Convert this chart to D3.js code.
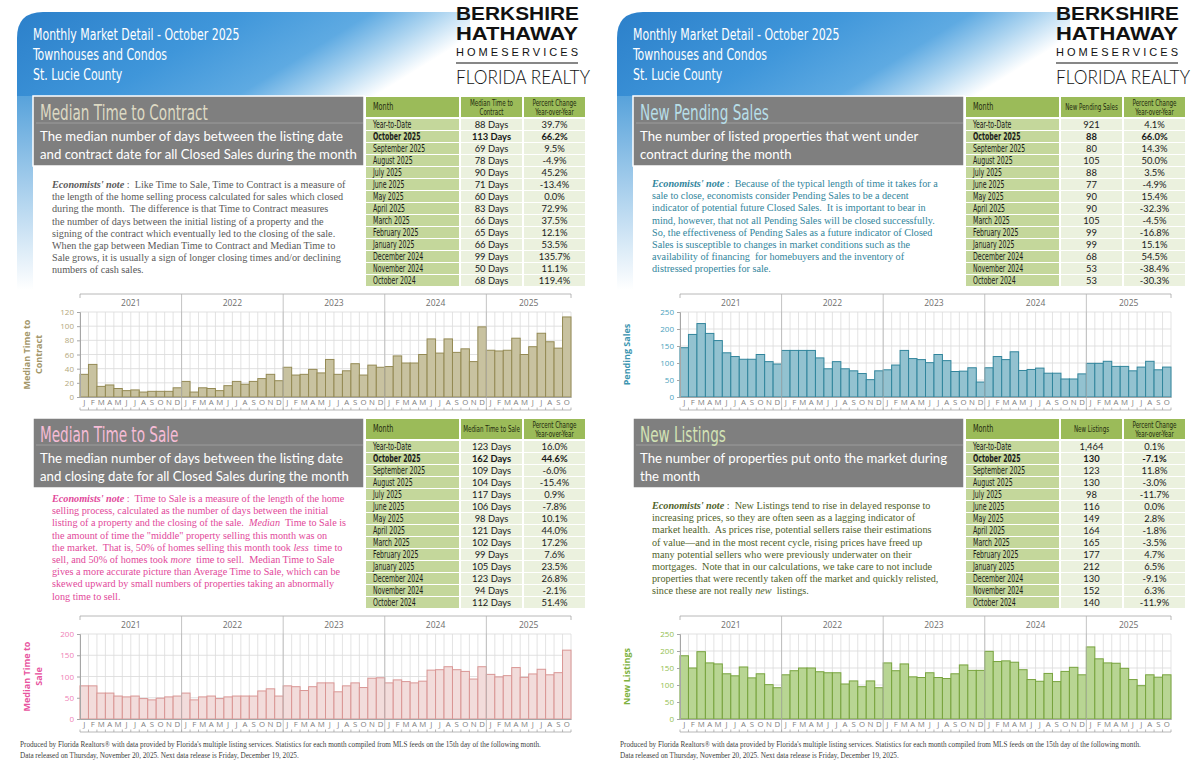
<!doctype html>
<html>
<head>
<meta charset="utf-8">
<title>Monthly Market Detail - October 2025</title>
<style>
body { margin: 0; background: #fff; }
svg text { font-family: "Liberation Sans Narrow", "DejaVu Sans Condensed", sans-serif; }
svg text.serif { font-family: "Liberation Serif", serif; white-space: pre; }
svg text.cal { font-family: Lato, "Open Sans", sans-serif; }
svg text.logo { font-family: "Liberation Sans", Arial, sans-serif; }
</style>
</head>
<body>
<script src="https://d3js.org/d3.v7.min.js"></script>
<script>

// ---- data ----
var months = ["J","F","M","A","M","J","J","A","S","O","N","D"];
var years = ["2021","2022","2023","2024","2025"];

// Jan 2021 .. Oct 2025
var ttcValues = [32,46,15,17,12,9,10,7,8,8,8,13,
                 22,7,13,12,9,16,22,18,22,26,32,23,
                 42,31,32,39,34,53,32,37,47,31,45,42,
                 43,58,48,48,60,82,62,82,63,68,50,99,
                 66,65,66,83,60,71,90,78,69,113];
var ttsValues = [78,78,61,61,54,52,54,48,45,49,52,54,
                 61,45,52,54,48,52,54,54,54,66,71,54,
                 78,76,67,76,85,85,64,78,85,74,96,97,
                 85,92,88,85,89,115,116,123,116,112,94,123,
                 105,99,102,121,98,106,117,104,109,162];
var pendingValues = [145,184,216,187,166,130,119,111,111,125,104,97,
                     137,137,137,137,115,83,104,83,77,69,51,77,
                     80,94,137,113,110,101,125,107,75,76,86,44,
                     86,119,110,133,78,81,85,70,70,53,53,68,
                     99,99,105,90,90,77,88,105,80,88];
var listingsValues = [186,150,198,165,162,133,127,153,121,133,101,92,
                      130,142,150,150,139,136,136,103,112,95,112,92,
                      165,142,162,124,122,136,122,119,133,159,143,143,
                      199,169,171,167,145,116,111,134,110,140,152,130,
                      212,177,165,164,149,116,98,130,123,130];

var tableMonths = ["Year-to-Date","October 2025","September 2025","August 2025","July 2025","June 2025",
                   "May 2025","April 2025","March 2025","February 2025","January 2025",
                   "December 2024","November 2024","October 2024"];
var ttcTable = ["88 Days","113 Days","69 Days","78 Days","90 Days","71 Days","60 Days","83 Days",
                "66 Days","65 Days","66 Days","99 Days","50 Days","68 Days"];
var ttcPct = ["39.7%","66.2%","9.5%","-4.9%","45.2%","-13.4%","0.0%","72.9%","37.5%","12.1%",
              "53.5%","135.7%","11.1%","119.4%"];
var ttsTable = ["123 Days","162 Days","109 Days","104 Days","117 Days","106 Days","98 Days","121 Days",
                "102 Days","99 Days","105 Days","123 Days","94 Days","112 Days"];
var ttsPct = ["16.0%","44.6%","-6.0%","-15.4%","0.9%","-7.8%","10.1%","44.0%","17.2%","7.6%",
              "23.5%","26.8%","-2.1%","51.4%"];
var pendingTable = ["921","88","80","105","88","77","90","90","105","99","99","68","53","53"];
var pendingPct = ["4.1%","66.0%","14.3%","50.0%","3.5%","-4.9%","15.4%","-32.3%","-4.5%","-16.8%",
                  "15.1%","54.5%","-38.4%","-30.3%"];
var listingsTable = ["1,464","130","123","130","98","116","149","164","165","177","212","130","152","140"];
var listingsPct = ["0.1%","-7.1%","11.8%","-3.0%","-11.7%","0.0%","2.8%","-1.8%","-3.5%","4.7%",
                   "6.5%","-9.1%","6.3%","-11.9%"];

var headerLines = ["Monthly Market Detail - October 2025", "Townhouses and Condos", "St. Lucie County"];

var ttcNote = [
 "**Economists' note** :  Like Time to Sale, Time to Contract is a measure of",
 "the length of the home selling process calculated for sales which closed",
 "during the month.  The difference is that Time to Contract measures",
 "the number of days between the initial listing of a property and the",
 "signing of the contract which eventually led to the closing of the sale.",
 "When the gap between Median Time to Contract and Median Time to",
 "Sale grows, it is usually a sign of longer closing times and/or declining",
 "numbers of cash sales."];
var ttsNote = [
 "**Economists' note** :  Time to Sale is a measure of the length of the home",
 "selling process, calculated as the number of days between the initial",
 "listing of a property and the closing of the sale.  _Median_  Time to Sale is",
 "the amount of time the \"middle\" property selling this month was on",
 "the market.  That is, 50% of homes selling this month took _less_  time to",
 "sell, and 50% of homes took _more_  time to sell.  Median Time to Sale",
 "gives a more accurate picture than Average Time to Sale, which can be",
 "skewed upward by small numbers of properties taking an abnormally",
 "long time to sell."];
var pendingNote = [
 "**Economists' note** :  Because of the typical length of time it takes for a",
 "sale to close, economists consider Pending Sales to be a decent",
 "indicator of potential future Closed Sales.  It is important to bear in",
 "mind, however, that not all Pending Sales will be closed successfully.",
 "So, the effectiveness of Pending Sales as a future indicator of Closed",
 "Sales is susceptible to changes in market conditions such as the",
 "availability of financing  for homebuyers and the inventory of",
 "distressed properties for sale."];
var listingsNote = [
 "**Economists' note** :  New Listings tend to rise in delayed response to",
 "increasing prices, so they are often seen as a lagging indicator of",
 "market health.  As prices rise, potential sellers raise their estimations",
 "of value\u2014and in the most recent cycle, rising prices have freed up",
 "many potential sellers who were previously underwater on their",
 "mortgages.  Note that in our calculations, we take care to not include",
 "properties that were recently taken off the market and quickly relisted,",
 "since these are not really _new_  listings."];

var footerLines = [
 "Produced by Florida Realtors\u00ae with data provided by Florida's multiple listing services. Statistics for each month compiled from MLS feeds on the 15th day of the following month.",
 "Data released on Thursday, November 20, 2025. Next data release is Friday, December 19, 2025."];

// ---- sections (styling only) ----
var panels = [
  { ox: 0, sections: [
    { top: 96, title: "Median Time to Contract", sub: ["The median number of days between the listing date", "and contract date for all Closed Sales during the month"],
      valueHead: ["Median Time to", "Contract"], cells: ttcTable, pcts: ttcPct, note: ttcNote, noteY: 188, values: ttcValues,
      max: 120, step: 20, axisLabel: ["Median Time to", "Contract"],
      titleColor: "#ddd9c3", noteColor: "#595959", fill: "#c8c2a0", stroke: "#948a54", labelColor: "#a39669", tickColor: "#b3a87c" },
    { top: 418, title: "Median Time to Sale", sub: ["The median number of days between the listing date", "and closing date for all Closed Sales during the month"],
      valueHead: ["Median Time to Sale"], cells: ttsTable, pcts: ttsPct, note: ttsNote, noteY: 502, values: ttsValues,
      max: 200, step: 50, axisLabel: ["Median Time to", "Sale"],
      titleColor: "#f6bcd6", noteColor: "#e2489a", fill: "#f2dcdb", stroke: "#d99694", labelColor: "#e8559f", tickColor: "#ef7fb6" }
  ]},
  { ox: 600, sections: [
    { top: 96, title: "New Pending Sales", sub: ["The number of listed properties that went under", "contract during the month"],
      valueHead: ["New Pending Sales"], cells: pendingTable, pcts: pendingPct, note: pendingNote, noteY: 187, values: pendingValues,
      max: 250, step: 50, axisLabel: ["Pending Sales"],
      titleColor: "#b7dee8", noteColor: "#31859c", fill: "#93c2d0", stroke: "#31859c", labelColor: "#3c95b0", tickColor: "#4aa3bd" },
    { top: 418, title: "New Listings", sub: ["The number of properties put onto the market during", "the month"],
      valueHead: ["New Listings"], cells: listingsTable, pcts: listingsPct, note: listingsNote, noteY: 509, values: listingsValues,
      max: 250, step: 50, axisLabel: ["New Listings"],
      titleColor: "#d3e3b5", noteColor: "#4f6228", fill: "#b8d593", stroke: "#77a33d", labelColor: "#80b23f", tickColor: "#92c050" }
  ]}
];

var svg = d3.select("body").append("svg")
  .attr("width", 1200)
  .attr("height", 776);

var defs = svg.append("defs");
var hg = defs.append("linearGradient").attr("id", "band").attr("x1", 0).attr("x2", 1).attr("y1", 0).attr("y2", 0.3);
hg.append("stop").attr("offset", "0%").attr("stop-color", "#2c80ca");
hg.append("stop").attr("offset", "45%").attr("stop-color", "#3f96da");
hg.append("stop").attr("offset", "72%").attr("stop-color", "#5eaae2");
hg.append("stop").attr("offset", "86%").attr("stop-color", "#acd4f0");
hg.append("stop").attr("offset", "100%").attr("stop-color", "#ffffff");
var vg = defs.append("linearGradient").attr("id", "strip").attr("x1", 0).attr("x2", 0).attr("y1", 0).attr("y2", 1);
vg.append("stop").attr("offset", "0%").attr("stop-color", "#4a9bd8");
vg.append("stop").attr("offset", "100%").attr("stop-color", "#ffffff");

// squeeze a text horizontally, stands in for the condensed face of the original
function narrow(sel, f) {
  sel.each(function() {
    var w = this.getComputedTextLength();
    d3.select(this).attr("textLength", w * f).attr("lengthAdjust", "spacingAndGlyphs");
  });
  return sel;
}

// logo words: stretch/squeeze to a set width with a transform so the box stays true
function logoWord(g, txt, x, y, width, size, weight, cls) {
  var wrap = g.append("g");
  var t = wrap.append("text").attr("class", cls).attr("x", 0).attr("y", 0)
    .attr("font-size", size).attr("font-weight", weight).attr("fill", "#111").text(txt);
  var w = t.node().getComputedTextLength();
  wrap.attr("transform", "translate(" + x + "," + y + ") scale(" + (width / w) + ",1)");
}

function noteText(g, x, y0, lines, color) {
  lines.forEach(function(ln, i) {
    var t = g.append("text").attr("class", "serif")
      .attr("x", x).attr("y", y0 + i * 12.2)
      .attr("font-size", 10.2).attr("fill", color);
    ln.split(/(\*\*[^*]+\*\*|_[^_]+_)/).forEach(function(part) {
      if (!part) return;
      var sp = t.append("tspan");
      if (part.indexOf("**") == 0) sp.text(part.slice(2, -2)).attr("font-weight", "bold").attr("font-style", "italic");
      else if (part[0] == "_" && part[part.length - 1] == "_") sp.text(part.slice(1, -1)).attr("font-style", "italic");
      else sp.text(part);
    });
  });
}

function drawTable(g, s) {
  var y0 = s.top + 1;
  var cols = [{x: 366, w: 93}, {x: 461, w: 61}, {x: 524, w: 61}];
  var heads = [["Month"], s.valueHead, ["Percent Change", "Year-over-Year"]];
  cols.forEach(function(c, ci) {
    g.append("rect").attr("x", c.x).attr("y", y0).attr("width", c.w).attr("height", 20).attr("fill", "#9bbb59");
    var hl = heads[ci];
    hl.forEach(function(h, hi) {
      narrow(g.append("text")
        .attr("x", ci == 0 ? c.x + 7 : c.x + c.w / 2)
        .attr("y", y0 + 10 + (hi - (hl.length - 1) / 2) * 9 + 3)
        .attr("text-anchor", ci == 0 ? "start" : "middle")
        .attr("font-size", ci == 0 ? 10 : 8.6).attr("fill", "#1f2a10")
        .text(h), 0.72);
    });
  });
  var rowY = d3.scaleBand().domain(d3.range(tableMonths.length)).range([y0 + 22, y0 + 22 + tableMonths.length * 12]);
  tableMonths.forEach(function(m, i) {
    var y = rowY(i);
    var bold = i == 1 ? "bold" : "normal";
    g.append("rect").attr("x", cols[0].x).attr("y", y).attr("width", cols[0].w).attr("height", 11).attr("fill", "#c4d79b");
    g.append("rect").attr("x", cols[1].x).attr("y", y).attr("width", cols[1].w).attr("height", 11).attr("fill", "#ebf1de");
    g.append("rect").attr("x", cols[2].x).attr("y", y).attr("width", cols[2].w).attr("height", 11).attr("fill", "#ebf1de");
    narrow(g.append("text").attr("x", cols[0].x + 7).attr("y", y + 9.2).attr("font-size", 10.2)
      .attr("font-weight", bold).attr("fill", "#1a1a1a").text(m), 0.68);
    g.append("text").attr("class", "cal").attr("x", cols[1].x + cols[1].w / 2).attr("y", y + 9).attr("text-anchor", "middle")
      .attr("font-size", 9.4).attr("font-weight", bold).attr("fill", "#1a1a1a").text(s.cells[i]);
    g.append("text").attr("class", "cal").attr("x", cols[2].x + cols[2].w / 2).attr("y", y + 9).attr("text-anchor", "middle")
      .attr("font-size", 9.4).attr("font-weight", bold).attr("fill", "#1a1a1a").text(s.pcts[i]);
  });
}

function drawChart(g, s, plotTop) {
  var n = s.values.length;
  var bottom = plotTop + 85;
  var x = d3.scaleBand().domain(d3.range(n)).range([80, 571]);
  var y = d3.scaleLinear().domain([0, s.max]).range([bottom, plotTop]);
  var ticks = d3.range(0, s.max + 1, s.step);
  var bx = function(i) { return i < n ? x(i) : x.range()[1]; };
  var bounds = d3.range(n + 1);
  var yearStarts = [0, 12, 24, 36, 48];

  g.selectAll(null).data(ticks.slice(1)).join("line")
    .attr("x1", 80).attr("x2", 571).attr("y1", y).attr("y2", y)
    .attr("stroke", "#d9d9d9").attr("stroke-width", 0.8);
  g.selectAll(null).data(bounds).join("line")
    .attr("x1", bx).attr("x2", bx).attr("y1", plotTop).attr("y2", bottom)
    .attr("stroke", "#dcdcdc").attr("stroke-width", 0.8);

  g.selectAll(null).data(s.values).join("rect")
    .attr("x", function(d, i) { return x(i); })
    .attr("y", function(d) { return y(d); })
    .attr("width", x.bandwidth())
    .attr("height", function(d) { return bottom - y(d); })
    .attr("fill", s.fill).attr("stroke", s.stroke).attr("stroke-width", 1);

  // year band on top
  g.append("line").attr("x1", 80).attr("x2", 571).attr("y1", plotTop - 18).attr("y2", plotTop - 18)
    .attr("stroke", "#a6a6a6").attr("stroke-width", 0.8);
  g.selectAll(null).data(yearStarts.slice(1)).join("line")
    .attr("x1", bx).attr("x2", bx).attr("y1", plotTop - 18).attr("y2", bottom + 13)
    .attr("stroke", "#b5b5b5").attr("stroke-width", 0.8);
  g.selectAll(null).data([80, 571]).join("line")
    .attr("x1", function(d) { return d; }).attr("x2", function(d) { return d; })
    .attr("y1", plotTop - 18).attr("y2", plotTop - 14)
    .attr("stroke", "#a6a6a6").attr("stroke-width", 0.8);
  g.selectAll(null).data(years).join("text")
    .attr("x", function(d, i) { var a = yearStarts[i], b = Math.min(a + 12, n); return (bx(a) + bx(b)) / 2; })
    .attr("y", plotTop - 6)
    .attr("text-anchor", "middle").attr("font-size", 8.5).attr("fill", "#6e6e6e")
    .style("font-family", "\"Open Sans\", sans-serif")
    .text(function(d) { return d; });

  // month axis
  var xAxis = d3.axisBottom(x).tickSize(0).tickPadding(2).tickFormat(function(i) { return months[i % 12]; });
  var xg = g.append("g").attr("transform", "translate(0," + bottom + ")").call(xAxis);
  xg.select(".domain").attr("stroke", "#a6a6a6");
  xg.selectAll("text").attr("font-size", 7.8).attr("fill", "#808080")
    .style("font-family", "\"Open Sans\", sans-serif");
  g.append("line").attr("x1", 80).attr("x2", 571).attr("y1", bottom + 13).attr("y2", bottom + 13)
    .attr("stroke", "#a6a6a6").attr("stroke-width", 0.8);
  g.selectAll(null).data(bounds).join("line")
    .attr("x1", bx).attr("x2", bx).attr("y1", bottom + 10.5).attr("y2", bottom + 13)
    .attr("stroke", "#a6a6a6").attr("stroke-width", 0.8);

  // value axis
  var yAxis = d3.axisLeft(y).tickValues(ticks).tickSize(3).tickPadding(3);
  var yg = g.append("g").attr("transform", "translate(80,0)").call(yAxis);
  yg.selectAll("path, line").attr("stroke", "#a6a6a6");
  yg.selectAll("text").attr("font-size", 8).attr("fill", s.tickColor)
    .style("font-family", "\"Open Sans\", sans-serif");

  // axis title
  var cy = (plotTop + bottom) / 2;
  var lx = s.axisLabel.length == 1 ? 27 : 33;
  var lab = g.append("text").attr("transform", "translate(" + lx + "," + cy + ") rotate(-90)")
    .attr("text-anchor", "middle").attr("font-size", 9).attr("font-weight", "bold")
    .attr("fill", s.labelColor).style("font-family", "\"Open Sans\", sans-serif");
  s.axisLabel.forEach(function(t, i) {
    lab.append("tspan").attr("x", 0).attr("y", (i - (s.axisLabel.length - 1) / 2) * 12 + 3).text(t);
  });
}

panels.forEach(function(p) {
  var g = svg.append("g").attr("transform", "translate(" + p.ox + ",0)");

  // blue header band
  g.append("rect").attr("x", 17).attr("y", 80).attr("width", 16).attr("height", 210).attr("fill", "url(#strip)");
  g.append("path").attr("d", "M17,96 L17,38 Q17,12 43,12 L470,12 L470,96 Z").attr("fill", "url(#band)");
  headerLines.forEach(function(t, i) {
    narrow(g.append("text").attr("x", 33).attr("y", 40 + i * 20).attr("font-size", 16)
      .attr("fill", "#ffffff").text(t), 0.76);
  });

  // logo
  logoWord(g, "BERKSHIRE", 456, 20, 123, 19, "bold", "logo");
  logoWord(g, "HATHAWAY", 456, 40, 122, 19, "bold", "logo");
  g.append("text").attr("class", "logo").attr("x", 456).attr("y", 56).attr("font-size", 11)
    .attr("textLength", 122).attr("lengthAdjust", "spacing").attr("fill", "#111").text("HOMESERVICES");
  g.append("line").attr("x1", 456).attr("x2", 578).attr("y1", 63).attr("y2", 63).attr("stroke", "#111").attr("stroke-width", 1.2);
  logoWord(g, "FLORIDA REALTY", 456, 84, 134, 19, 300, "cal");

  p.sections.forEach(function(s) {
    g.append("rect").attr("x", 33).attr("y", s.top).attr("width", 331).attr("height", 70)
      .attr("fill", "#7f7f7f").attr("stroke", "#ffffff").attr("stroke-width", 1.5);
    g.append("line").attr("x1", 36).attr("x2", 363).attr("y1", s.top + 27).attr("y2", s.top + 27)
      .attr("stroke", "#a5a5a5").attr("stroke-width", 0.8);
    narrow(g.append("text").attr("x", 40).attr("y", s.top + 24).attr("font-size", 21)
      .attr("fill", s.titleColor).text(s.title), 0.72);
    s.sub.forEach(function(t, i) {
      g.append("text").attr("class", "cal").attr("x", 40).attr("y", s.top + 45 + i * 18)
        .attr("font-size", 13.2).attr("fill", "#ffffff").text(t);
    });
    drawTable(g, s);
    noteText(g, 52, s.noteY, s.note, s.noteColor);
    drawChart(g, s, s.top + 216);
  });

  footerLines.forEach(function(t, i) {
    g.append("text").attr("class", "serif").attr("x", 20).attr("y", 747 + i * 10.5)
      .attr("font-size", 7.2).attr("fill", "#404040").text(t);
  });
});

</script>
</body>
</html>
